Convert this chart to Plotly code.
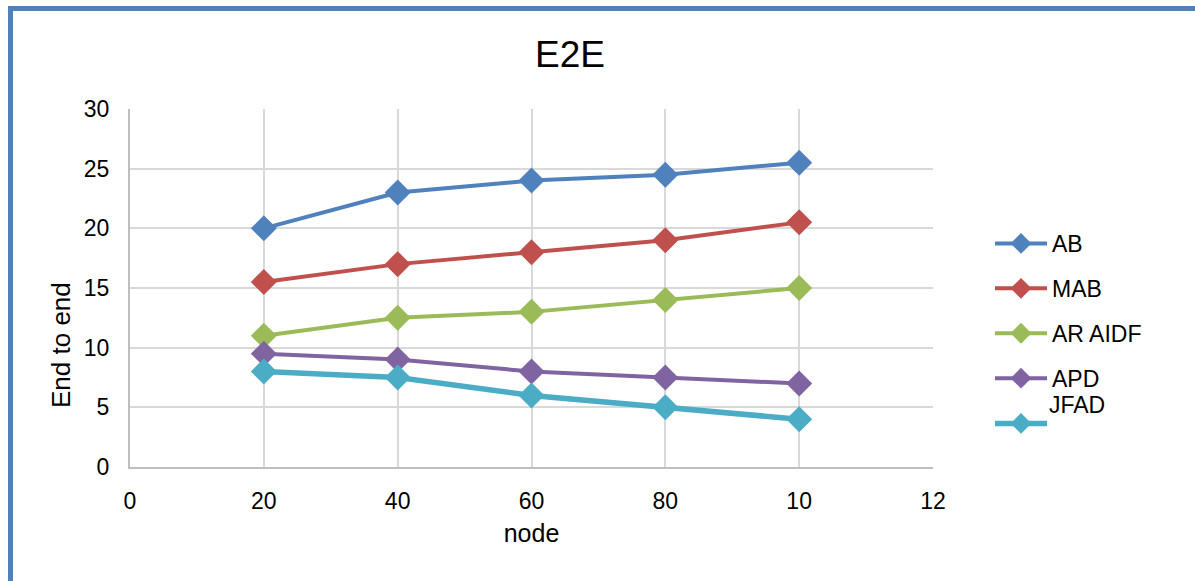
import plotly.graph_objects as go

x_nodes = [20, 40, 60, 80, 100]
tick_vals = [0, 20, 40, 60, 80, 100, 120]
tick_text = ["0", "20", "40", "60", "80", "10", "12"]

ab = [20, 23, 24, 24.5, 25.5]
mab = [15.5, 17, 18, 19, 20.5]
ar_aidf = [11, 12.5, 13, 14, 15]
apd = [9.5, 9, 8, 7.5, 7]
jfad = [8, 7.5, 6, 5, 4]

series = [
    ("AB", ab, "#4F81BD", 4, "legend"),
    ("MAB", mab, "#C0504D", 4, "legend"),
    ("AR AIDF", ar_aidf, "#9BBB59", 4, "legend"),
    ("APD", apd, "#8064A2", 4, "legend"),
    ("JFAD", jfad, "#4BACC6", 5.5, "legend2"),
]

W, H = 1195, 581
L, R, T, B = 130, 933, 109, 467

fig = go.Figure()
for name, vals, color, lw, leg in series:
    fig.add_trace(go.Scatter(
        x=x_nodes, y=vals, name=(name if leg == "legend" else " "),
        mode="lines+markers",
        legendgroup=name, legend=leg,
        line=dict(color=color, width=lw),
        marker=dict(symbol="diamond", size=20, color=color),
    ))

def px2x(p):
    return (p - L) / (R - L)

def px2y(p):
    return (B - p) / (B - T)

fig.add_shape(type="rect", xref="paper", yref="paper",
              x0=px2x(10.5), x1=px2x(1210), y0=px2y(8.5), y1=px2y(600),
              line=dict(color="#4F81BD", width=5), layer="above")

font = "Liberation Sans, Arial, sans-serif"
fig.add_annotation(text="End to end", xref="paper", yref="paper",
                   x=px2x(61), y=px2y(345), xanchor="center", yanchor="middle",
                   textangle=-90, showarrow=False, font=dict(size=26, family=font))
fig.add_annotation(text="JFAD", xref="paper", yref="paper",
                   x=px2x(1048), y=px2y(405), xanchor="left", yanchor="middle",
                   showarrow=False, borderpad=0, font=dict(size=23, family=font))

fig.update_layout(
    width=W, height=H,
    margin=dict(l=L, r=W - R, t=T, b=H - B),
    paper_bgcolor="white", plot_bgcolor="white",
    font=dict(family=font, size=23, color="#000000"),
    title=dict(text="E2E", x=570 / W, xanchor="center", y=1 - 54 / H, yanchor="middle",
               font=dict(size=37, family=font)),
    xaxis=dict(range=[0, 120], tickvals=tick_vals, ticktext=tick_text,
               tickfont=dict(size=23),
               showgrid=True, gridcolor="#D9D9D9", gridwidth=2,
               showline=True, linecolor="#BFBFBF", linewidth=2,
               zeroline=False, ticks="", ticklabelstandoff=12,
               title=dict(text="node", standoff=12, font=dict(size=25))),
    yaxis=dict(range=[0, 30], tickvals=[0, 5, 10, 15, 20, 25, 30],
               tickfont=dict(size=23),
               showgrid=True, gridcolor="#D9D9D9", gridwidth=2,
               showline=True, linecolor="#BFBFBF", linewidth=2,
               zeroline=False, ticks="", ticklabelstandoff=14),
    legend=dict(x=px2x(990), xanchor="left", y=px2y(222), yanchor="top",
                font=dict(size=23), tracegroupgap=12, itemwidth=52,
                bgcolor="rgba(0,0,0,0)"),
    legend2=dict(x=px2x(990), xanchor="left", y=px2y(402), yanchor="top",
                 font=dict(size=23), itemwidth=52,
                 bgcolor="rgba(0,0,0,0)"),
    showlegend=True,
)

fig.write_html("out.html")
